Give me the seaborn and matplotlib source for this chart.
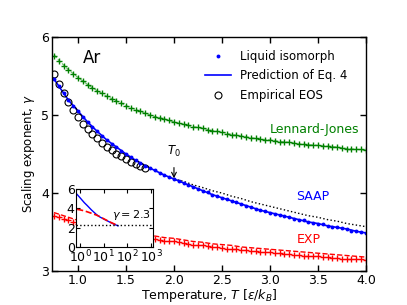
# Scaling exponent gamma vs temperature for argon models
import matplotlib
matplotlib.use('Agg')
import matplotlib.pyplot as plt
import seaborn as sns

# temperature grid for the simulated state points
temps = [0.75, 0.80, 0.85, 0.90, 0.95, 1.00, 1.05, 1.10, 1.15, 1.20, 1.25,
         1.30, 1.35, 1.40, 1.45, 1.50, 1.55, 1.60, 1.65, 1.70, 1.75, 1.80,
         1.85, 1.90, 1.95, 2.00, 2.05, 2.10, 2.15, 2.20, 2.25, 2.30, 2.35,
         2.40, 2.45, 2.50, 2.55, 2.60, 2.65, 2.70, 2.75, 2.80, 2.85, 2.90,
         2.95, 3.00, 3.05, 3.10, 3.15, 3.20, 3.25, 3.30, 3.35, 3.40, 3.45,
         3.50, 3.55, 3.60, 3.65, 3.70, 3.75, 3.80, 3.85, 3.90, 3.95, 4.00]

gamma_lj = [5.76, 5.69, 5.63, 5.58, 5.52, 5.48, 5.43, 5.39, 5.35, 5.31, 5.28,
            5.24, 5.21, 5.18, 5.15, 5.12, 5.09, 5.07, 5.05, 5.02, 5.00, 4.98,
            4.96, 4.95, 4.93, 4.91, 4.90, 4.88, 4.87, 4.85, 4.84, 4.83, 4.81,
            4.80, 4.79, 4.78, 4.76, 4.75, 4.74, 4.73, 4.72, 4.71, 4.70, 4.69,
            4.68, 4.68, 4.67, 4.66, 4.66, 4.65, 4.64, 4.63, 4.63, 4.62, 4.62,
            4.61, 4.60, 4.60, 4.59, 4.59, 4.58, 4.57, 4.57, 4.56, 4.56, 4.55]

gamma_saap = [5.46, 5.37, 5.28, 5.19, 5.12, 5.05, 4.97, 4.91, 4.85, 4.79, 4.73,
              4.68, 4.63, 4.59, 4.54, 4.50, 4.46, 4.42, 4.39, 4.35, 4.32, 4.29,
              4.26, 4.23, 4.20, 4.18, 4.15, 4.13, 4.10, 4.08, 4.05, 4.03, 4.01,
              3.98, 3.96, 3.94, 3.92, 3.90, 3.88, 3.86, 3.84, 3.82, 3.80, 3.78,
              3.77, 3.75, 3.73, 3.72, 3.70, 3.69, 3.67, 3.66, 3.65, 3.63, 3.62,
              3.61, 3.60, 3.58, 3.57, 3.56, 3.55, 3.54, 3.52, 3.51, 3.50, 3.49]

gamma_exp = [3.71, 3.69, 3.67, 3.65, 3.63, 3.61, 3.60, 3.58, 3.57, 3.55, 3.54,
             3.52, 3.51, 3.50, 3.49, 3.47, 3.46, 3.45, 3.44, 3.43, 3.42, 3.41,
             3.40, 3.39, 3.38, 3.38, 3.37, 3.36, 3.35, 3.34, 3.34, 3.33, 3.32,
             3.31, 3.31, 3.30, 3.29, 3.29, 3.28, 3.27, 3.27, 3.26, 3.26, 3.25,
             3.24, 3.24, 3.23, 3.23, 3.22, 3.22, 3.21, 3.21, 3.20, 3.20, 3.19,
             3.19, 3.18, 3.18, 3.17, 3.17, 3.16, 3.16, 3.15, 3.15, 3.15, 3.14]

# predictions (coarser grid)
temps_pred = [0.75, 0.8, 0.9, 1.0, 1.1, 1.2, 1.3, 1.4, 1.5, 1.6, 1.7, 1.8,
              1.9, 2.0, 2.1, 2.2, 2.3, 2.4, 2.5, 2.6, 2.7, 2.8, 2.9, 3.0,
              3.1, 3.2, 3.3, 3.4, 3.5, 3.6, 3.7, 3.8, 3.9, 4.0]
pred_saap = [5.46, 5.37, 5.19, 5.05, 4.91, 4.79, 4.68, 4.59, 4.50, 4.42, 4.35,
             4.29, 4.23, 4.18, 4.13, 4.08, 4.03, 3.98, 3.94, 3.90, 3.86, 3.82,
             3.78, 3.75, 3.72, 3.69, 3.66, 3.63, 3.61, 3.58, 3.56, 3.54, 3.51, 3.49]
pred_exp = [3.75, 3.73, 3.69, 3.65, 3.62, 3.59, 3.56, 3.54, 3.52, 3.49, 3.47,
            3.45, 3.43, 3.42, 3.40, 3.38, 3.37, 3.35, 3.34, 3.33, 3.31, 3.30,
            3.29, 3.28, 3.27, 3.26, 3.25, 3.24, 3.23, 3.22, 3.21, 3.20, 3.19, 3.18]
pred_lj = [5.77, 5.70, 5.58, 5.48, 5.39, 5.31, 5.24, 5.18, 5.12, 5.07, 5.02,
           4.98, 4.95, 4.91, 4.88, 4.85, 4.83, 4.80, 4.78, 4.75, 4.73, 4.71,
           4.69, 4.68, 4.66, 4.65, 4.63, 4.62, 4.61, 4.60, 4.59, 4.57, 4.56, 4.55]

# high-temperature extrapolation beyond T0
temps_dot = [2.0, 2.1, 2.2, 2.3, 2.4, 2.5, 2.6, 2.7, 2.8, 2.9, 3.0,
             3.1, 3.2, 3.3, 3.4, 3.5, 3.6, 3.7, 3.8, 3.9, 4.0]
gamma_dot = [4.18, 4.15, 4.105, 4.07, 4.03, 4.00, 3.96, 3.93, 3.89, 3.86, 3.83,
             3.80, 3.77, 3.74, 3.71, 3.69, 3.66, 3.64, 3.61, 3.59, 3.57]

# empirical equation of state
temps_eos = [0.75, 0.80, 0.85, 0.90, 0.95, 1.00, 1.05, 1.10, 1.15, 1.20,
             1.25, 1.30, 1.35, 1.40, 1.45, 1.50, 1.55, 1.60, 1.65, 1.70]
gamma_eos = [5.52, 5.40, 5.28, 5.17, 5.07, 4.97, 4.89, 4.82, 4.76, 4.70,
             4.64, 4.59, 4.55, 4.50, 4.47, 4.43, 4.40, 4.37, 4.35, 4.32]

# inset: wide temperature range (log axis)
inset_t_saap = [0.75, 1, 1.5, 2, 3, 5, 7, 10, 15, 20, 30, 40]
inset_g_saap = [5.45, 5.10, 4.60, 4.30, 3.85, 3.35, 3.10, 2.90, 2.68, 2.52, 2.32, 2.20]
inset_t_exp = [0.75, 1, 1.5, 2, 3, 5, 7, 10, 15, 20, 30, 35]
inset_g_exp = [3.90, 3.85, 3.75, 3.65, 3.50, 3.30, 3.13, 2.93, 2.70, 2.55, 2.35, 2.27]
gamma_limit = 2.3

plt.rcParams['font.family'] = ['DejaVu Sans']
plt.rcParams['mathtext.fontset'] = 'dejavusans'
plt.rcParams['font.size'] = 9

fig = plt.figure(figsize=(4.07, 3.05), dpi=100)
ax = fig.add_axes([0.128, 0.111, 0.771, 0.768])

# Lennard-Jones
sns.lineplot(x=temps_pred, y=pred_lj, ax=ax, color='#66bb66', lw=0.8, linestyle='--')
sns.lineplot(x=temps, y=gamma_lj, ax=ax, color='g', marker='+', linestyle='none',
             markersize=5, markeredgewidth=1.0, markeredgecolor='g')

# EXP
sns.lineplot(x=temps_pred, y=pred_exp, ax=ax, color='r', lw=1.0, linestyle='--')
sns.lineplot(x=temps, y=gamma_exp, ax=ax, color='r', marker='+', linestyle='none',
             markersize=5, markeredgewidth=1.0, markeredgecolor='r')

# SAAP
sns.lineplot(x=temps_dot, y=gamma_dot, ax=ax, color='k', lw=1.0, linestyle=':')
sns.lineplot(x=temps_pred, y=pred_saap, ax=ax, color='b', lw=1.2,
             label='Prediction of Eq. 4')
line_pred = ax.lines[-1]
sns.lineplot(x=temps_eos, y=gamma_eos, ax=ax, color='k', marker='o', linestyle='none',
             markersize=5, markerfacecolor='none', markeredgecolor='k',
             markeredgewidth=0.8, label='Empirical EOS')
line_eos = ax.lines[-1]
sns.lineplot(x=temps, y=gamma_saap, ax=ax, color='b', marker='o', linestyle='none',
             markersize=2.8, markeredgewidth=0, markeredgecolor='b',
             label='Liquid isomorph')
line_iso = ax.lines[-1]

ax.legend(handles=[line_iso, line_pred, line_eos],
          labels=['Liquid isomorph', 'Prediction of Eq. 4', 'Empirical EOS'],
          loc='upper right', bbox_to_anchor=(0.975, 0.99), frameon=False,
          fontsize=8.5, handlelength=2.2, labelspacing=0.55)

ax.text(1.05, 5.73, 'Ar', fontsize=12, ha='left', va='center')
ax.text(3.46, 4.81, 'Lennard-Jones', color='g', ha='center', va='center', fontsize=9)
ax.text(3.45, 3.96, 'SAAP', color='b', ha='center', va='center', fontsize=9)
ax.text(3.40, 3.41, 'EXP', color='r', ha='center', va='center', fontsize=9)
ax.annotate('$T_0$', xy=(2.0, 4.19), xytext=(2.0, 4.53), ha='center', va='center',
            fontsize=8.5, arrowprops=dict(arrowstyle='->', color='k', lw=0.8,
                                          shrinkA=4, shrinkB=0))

ax.set_xlim(0.73, 4.0)
ax.set_ylim(3, 6)
ax.set_xticks([1.0, 1.5, 2.0, 2.5, 3.0, 3.5, 4.0])
ax.set_yticks([3, 4, 5, 6])
ax.set_xlabel(r'Temperature, $T$ [$\varepsilon/k_B$]', fontsize=9, labelpad=0)
ax.set_ylabel(r'Scaling exponent, $\gamma$', fontsize=8.5, labelpad=3)
ax.tick_params(direction='in', top=True, right=True, labelsize=9, length=4,
               width=1, pad=2)
for s in ax.spines.values():
    s.set_linewidth(1.0)

# inset
axin = fig.add_axes([0.187, 0.19, 0.189, 0.19])
sns.lineplot(x=inset_t_saap, y=inset_g_saap, ax=axin, color='b', lw=1.0)
sns.lineplot(x=inset_t_exp, y=inset_g_exp, ax=axin, color='r', lw=1.2, linestyle='--')
axin.axhline(gamma_limit, color='k', ls=':', lw=1.0)
axin.text(22, 3.3, r'$\gamma = 2.3$', fontsize=8, ha='left', va='center')
axin.set_xscale('log')
axin.set_xlim(0.68, 1200)
axin.set_ylim(0, 6)
axin.set_xticks([1, 10, 100, 1000])
axin.set_yticks([0, 2, 4, 6])
axin.minorticks_off()
axin.tick_params(direction='in', top=True, right=True, labelsize=9, length=3, pad=1)
axin.set_facecolor('white')

fig.savefig('out.png', dpi=100)
